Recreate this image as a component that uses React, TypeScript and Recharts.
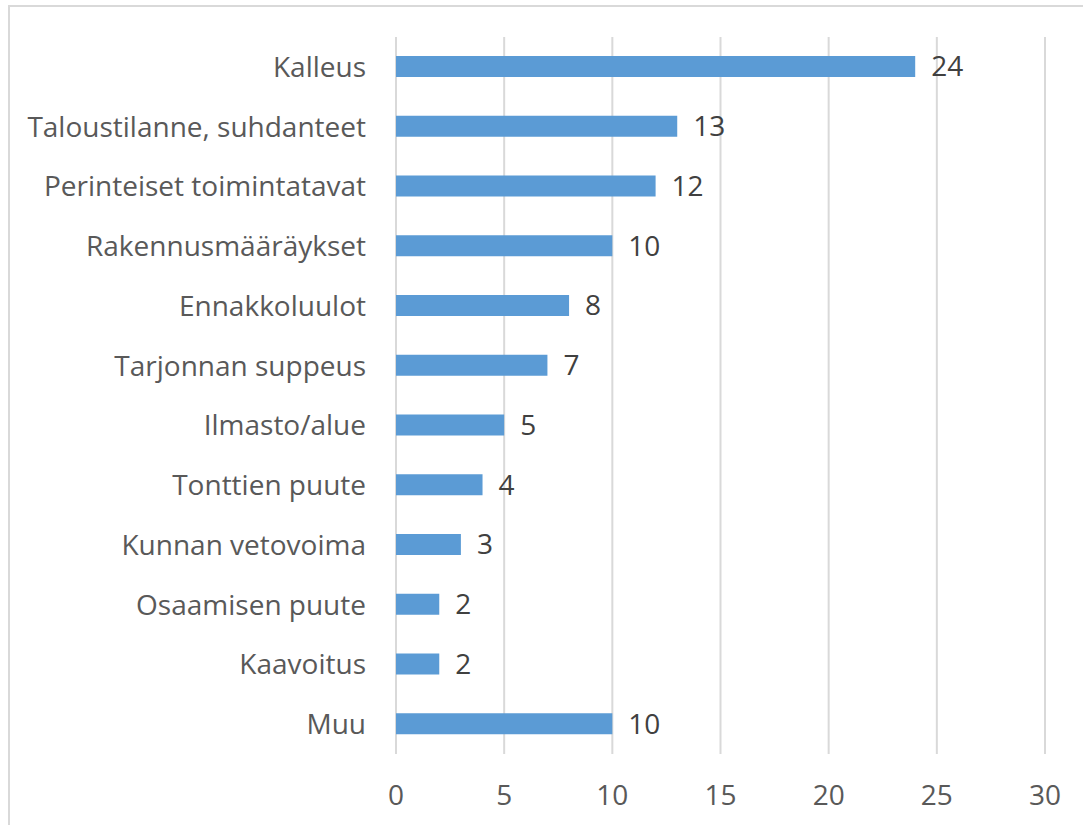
import { Bar, BarChart, CartesianGrid, LabelList, XAxis, YAxis } from "recharts";

const categories = [
  "Kalleus",
  "Taloustilanne, suhdanteet",
  "Perinteiset toimintatavat",
  "Rakennusmääräykset",
  "Ennakkoluulot",
  "Tarjonnan suppeus",
  "Ilmasto/alue",
  "Tonttien puute",
  "Kunnan vetovoima",
  "Osaamisen puute",
  "Kaavoitus",
  "Muu",
];
const counts = [24, 13, 12, 10, 8, 7, 5, 4, 3, 2, 2, 10];
const xTicks = [0, 5, 10, 15, 20, 25, 30];

const data = categories.map((name, i) => ({ name, value: counts[i] }));

const font = "'Open Sans', sans-serif";

export default function App() {
  return (
    <div style={{ position: "fixed", left: 0, top: 0, width: 1083, height: 825, background: "#fff", overflow: "hidden", fontFamily: font }}>
      {/* chart frame, cropped on the right and bottom like the source */}
      <div
        style={{
          position: "absolute",
          left: 8,
          top: 5,
          width: 1200,
          height: 1000,
          borderTop: "2px solid #d9d9d9",
          borderLeft: "2px solid #d9d9d9",
        }}
      />
      <BarChart
        layout="vertical"
        width={1083}
        height={825}
        data={data}
        margin={{ top: 37, right: 38, left: 0, bottom: 0 }}
        barSize={21}
        style={{ position: "absolute", left: 0, top: 0 }}
      >
        <CartesianGrid horizontal={false} stroke="#d9d9d9" strokeWidth={2} />
        <XAxis
          type="number"
          domain={[0, 30]}
          ticks={xTicks}
          axisLine={false}
          tickLine={false}
          tickSize={0}
          tickMargin={31}
          height={71}
          tick={{ fill: "#595959", fontSize: 28, fontFamily: font }}
        />
        <YAxis
          type="category"
          dataKey="name"
          width={396}
          axisLine={false}
          tickLine={false}
          tickSize={0}
          tickMargin={30}
          interval={0}
          tick={{ fill: "#595959", fontSize: 28, fontFamily: font }}
        />
        <Bar dataKey="value" fill="#5b9bd5" isAnimationActive={false}>
          <LabelList
            dataKey="value"
            position="right"
            offset={16}
            fill="#404040"
            fontSize={28}
            fontFamily={font}
          />
        </Bar>
      </BarChart>
    </div>
  );
}
